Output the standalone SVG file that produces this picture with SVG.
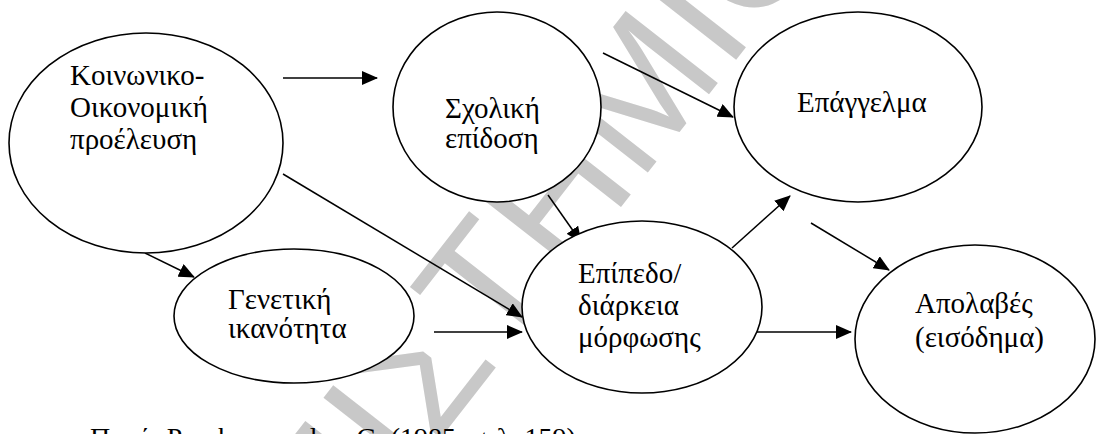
<svg xmlns="http://www.w3.org/2000/svg" width="1100" height="434" viewBox="0 0 1100 434">
<style>
.node ellipse{fill:#fff;stroke:#000;stroke-width:1.6}
.conn line{stroke:#000;stroke-width:1.5;marker-end:url(#ah)}
</style>
<defs>
<marker id="ah" markerUnits="userSpaceOnUse" markerWidth="16" markerHeight="14" refX="15" refY="7" orient="auto"><path d="M0,0L16,7L0,14z" fill="#000"/></marker>
</defs>
<rect width="1100" height="434" fill="#fff"/>
<text font-family="Liberation Sans, sans-serif" font-size="170" fill="#c8c8c8" x="-1045" y="61" transform="translate(635,90) rotate(-52)">ΠΑΝΕΠΙΣΤΗΜΙΟ</text>
<g class="conn" id="connectors">
<line x1="283" y1="78" x2="377" y2="78"/>
<line x1="603" y1="53" x2="733" y2="117"/>
<line x1="283" y1="174" x2="522" y2="317"/>
<line x1="145" y1="253" x2="194" y2="277"/>
<line x1="548" y1="195" x2="581" y2="242"/>
<line x1="434" y1="332" x2="522" y2="332"/>
<line x1="732" y1="248" x2="790" y2="196"/>
<line x1="811" y1="223" x2="889" y2="270"/>
<line x1="755" y1="332" x2="851" y2="332"/>
</g>
<g font-family="Liberation Serif, serif" font-size="29" fill="#000">
<g class="node" id="n-socio">
<ellipse cx="146" cy="143" rx="137" ry="110"/>
<text x="70" y="85">Κοινωνικο-</text>
<text x="70" y="117">Οικονομική</text>
<text x="70" y="149">προέλευση</text>
</g>
<g class="node" id="n-school">
<ellipse cx="497" cy="107" rx="104" ry="95"/>
<text x="445" y="118">Σχολική</text>
<text x="445" y="148">επίδοση</text>
</g>
<g class="node" id="n-job">
<ellipse cx="858" cy="107" rx="124" ry="95"/>
<text x="797" y="112">Επάγγελμα</text>
</g>
<g class="node" id="n-edu">
<ellipse cx="642" cy="307" rx="120" ry="86"/>
<text x="578" y="283">Επίπεδο/</text>
<text x="578" y="315">διάρκεια</text>
<text x="578" y="347">μόρφωσης</text>
</g>
<g class="node" id="n-gen">
<ellipse cx="294" cy="316" rx="120" ry="67"/>
<text x="228" y="309">Γενετική</text>
<text x="228" y="338">ικανότητα</text>
</g>
<g class="node" id="n-income">
<ellipse cx="975" cy="339" rx="120" ry="94"/>
<text x="915" y="313">Απολαβές</text>
<text x="915" y="347">(εισόδημα)</text>
</g>
<text x="90" y="447" font-size="28">Πηγή: Psacharopoulos, G. (1985, σελ. 159)</text>
</g>
</svg>
